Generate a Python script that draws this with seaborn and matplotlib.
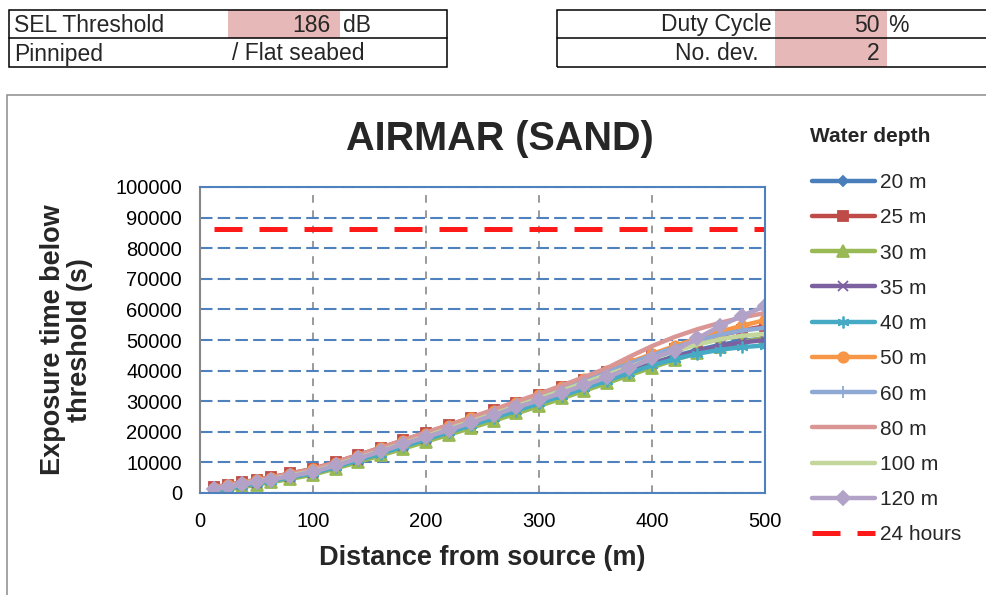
import numpy as np
import pandas as pd
import matplotlib.pyplot as plt
import seaborn as sns
from matplotlib.patches import Rectangle

# distance from source (m)
distance = [12.5, 25, 37.5, 50, 62.5, 80, 100, 120, 140, 160, 180, 200, 220, 240,
            260, 280, 300, 320, 340, 360, 380, 400, 420, 440, 460, 480, 500]

# exposure time below threshold (s) per water depth
depth_20 = [1000, 1800, 2600, 3400, 4200, 5300, 6700, 8800, 11000, 13300, 15600, 17900, 20200, 22600,
            25000, 27500, 29900, 32400, 34900, 37400, 39900, 42400, 44700, 46700, 48400, 49700, 50500]
depth_25 = [1900, 2700, 3500, 4300, 5100, 6400, 7900, 10100, 12400, 14800, 17200, 19700, 22100, 24600,
            27000, 29500, 32000, 34500, 37000, 39600, 42200, 44700, 47200, 49500, 51500, 53200, 54500]
depth_30 = [500, 1200, 1900, 2700, 3500, 4600, 6000, 8000, 10100, 12300, 14500, 16800, 19000, 21300,
            23600, 26000, 28400, 30900, 33400, 35900, 38500, 41000, 43500, 45700, 47600, 49200, 50800]
depth_35 = [900, 1700, 2500, 3300, 4100, 5200, 6600, 8700, 10900, 13200, 15500, 17800, 20100, 22400,
            24800, 27300, 29700, 32200, 34700, 37200, 39700, 42200, 44400, 46400, 48000, 49200, 50000]
depth_40 = [800, 1600, 2400, 3200, 4000, 5100, 6500, 8500, 10700, 12900, 15200, 17500, 19800, 22100,
            24500, 26900, 29300, 31700, 34200, 36700, 39200, 41700, 43800, 45500, 46800, 47700, 48200]
depth_50 = [1700, 2500, 3300, 4100, 4900, 6200, 7700, 9900, 12200, 14600, 17000, 19400, 21900, 24400,
            26900, 29500, 32100, 34700, 37300, 40000, 42700, 45400, 48000, 50500, 52700, 54700, 56500]
depth_60 = [1500, 2300, 3100, 3900, 4700, 5900, 7400, 9600, 11900, 14300, 16700, 19100, 21500, 24000,
            26500, 29100, 31700, 34300, 36900, 39600, 42300, 45000, 47500, 49800, 51700, 53100, 54000]
depth_80 = [1800, 2600, 3400, 4200, 5000, 6300, 7800, 10000, 12400, 14800, 17300, 19800, 22200, 24700,
            27300, 29900, 32400, 35100, 37900, 40800, 44500, 48000, 51000, 53500, 55600, 57400, 58800]
depth_100 = [1300, 2100, 2900, 3700, 4500, 5700, 7100, 9200, 11500, 13800, 16200, 18600, 21000, 23400,
             25900, 28400, 30900, 33400, 36000, 38600, 41200, 43800, 46300, 48500, 50200, 51400, 52000]
depth_120 = [1200, 2000, 2800, 3600, 4400, 5500, 6900, 9000, 11300, 13600, 16000, 18300, 20600, 23000,
             25500, 28000, 30300, 32700, 35200, 37800, 40800, 44000, 46500, 50500, 54500, 58000, 61000]
hours_24 = 86400

series = [
    ('20 m', depth_20, '#4A7EBB', 'D', 5.5),
    ('25 m', depth_25, '#BE4B48', 's', 7.5),
    ('30 m', depth_30, '#98B954', '^', 8),
    ('35 m', depth_35, '#7D60A0', 'x', 7.5),
    ('40 m', depth_40, '#46AAC5', (6, 2, 0), 8.5),
    ('50 m', depth_50, '#F79646', 'o', 7.5),
    ('60 m', depth_60, '#8FA9D5', '+', 8.5),
    ('80 m', depth_80, '#D99694', None, 0),
    ('100 m', depth_100, '#C3D69B', None, 0),
    ('120 m', depth_120, '#B3A2C7', 'D', 7.5),
]

sns.set_style('white')
plt.rcParams['font.family'] = ['Liberation Sans', 'DejaVu Sans']

W, H = 986, 595
fig = plt.figure(figsize=(W / 100, H / 100), dpi=100)


def fx(x):
    return x / W


def fy(y):
    return 1 - y / H


# chart frame
fig.add_artist(Rectangle((fx(7), -0.1), 1.1, fy(95) + 0.1, transform=fig.transFigure,
                         fill=False, edgecolor='#8C8C8C', lw=1.1))

# parameter tables on top
pink = '#E6B9B8'
fig.add_artist(Rectangle((fx(228), fy(38)), fx(340) - fx(228), fy(10) - fy(38),
                         transform=fig.transFigure, facecolor=pink, edgecolor='none'))
fig.add_artist(Rectangle((fx(775), fy(67)), fx(887) - fx(775), fy(10) - fy(67),
                         transform=fig.transFigure, facecolor=pink, edgecolor='none'))
fig.add_artist(Rectangle((fx(9), fy(67)), fx(447) - fx(9), fy(10) - fy(67),
                         transform=fig.transFigure, fill=False, edgecolor='black', lw=1.1))
fig.add_artist(Rectangle((fx(557), fy(67)), fx(995) - fx(557), fy(10) - fy(67),
                         transform=fig.transFigure, fill=False, edgecolor='black', lw=1.1))
fig.add_artist(plt.Line2D([fx(9), fx(447)], [fy(38), fy(38)], transform=fig.transFigure, color='black', lw=1.1))
fig.add_artist(plt.Line2D([fx(557), fx(995)], [fy(38), fy(38)], transform=fig.transFigure, color='black', lw=1.1))

tsize = 16.5
fig.text(fx(14), fy(25), 'SEL Threshold', fontsize=tsize, va='center', ha='left')
fig.text(fx(331), fy(25), '186', fontsize=tsize, va='center', ha='right')
fig.text(fx(343), fy(25), 'dB', fontsize=tsize, va='center', ha='left')
fig.text(fx(14), fy(54), 'Pinniped', fontsize=tsize, va='center', ha='left')
fig.text(fx(232), fy(54), '/ Flat seabed', fontsize=tsize, va='center', ha='left')
fig.text(fx(772), fy(25), 'Duty Cycle', fontsize=tsize, va='center', ha='right')
fig.text(fx(880), fy(25), '50', fontsize=tsize, va='center', ha='right')
fig.text(fx(888), fy(25), '%', fontsize=tsize, va='center', ha='left')
fig.text(fx(759), fy(54), 'No. dev.', fontsize=tsize, va='center', ha='right')
fig.text(fx(880), fy(54), '2', fontsize=tsize, va='center', ha='right')

# the chart
ax = fig.add_axes([fx(200), fy(493), fx(765) - fx(200), fy(187) - fy(493)])
ax.set_axisbelow(True)

for label, vals, color, marker, ms in series:
    df = pd.DataFrame({'distance': distance, 'time': vals})
    sns.lineplot(data=df, x='distance', y='time', ax=ax, color=color, marker=marker,
                 markersize=ms, markeredgecolor=color, markeredgewidth=1.3,
                 linewidth=3.2, label=label)

df24 = pd.DataFrame({'distance': distance, 'time': [hours_24] * len(distance)})
sns.lineplot(data=df24, x='distance', y='time', ax=ax, color='#FF1A1A',
             linestyle=(0, (5.6, 3.4)), linewidth=3.6, label='24 hours')

ax.set_xlim(0, 500)
ax.set_ylim(0, 100000)
ax.set_xticks(np.arange(0, 501, 100))
ax.set_yticks(np.arange(0, 100001, 10000))
ax.yaxis.grid(True, color='#4F81BD', linestyle=(0, (6, 2.5)), lw=1.5)
ax.xaxis.grid(True, color='#7F7F7F', linestyle=(0, (5, 5)), lw=1.1)

for side in ['top', 'right', 'bottom']:
    ax.spines[side].set_color('#4F81BD')
    ax.spines[side].set_linewidth(1.5)
ax.spines['left'].set_color('#868686')
ax.spines['left'].set_linewidth(1.5)

ax.tick_params(axis='both', labelsize=14.5, labelcolor='black', length=3, width=1, direction='out')
ax.tick_params(axis='x', pad=11, colors='#4F81BD', labelcolor='black')
ax.tick_params(axis='y', pad=10, colors='#868686', labelcolor='black')

ax.set_title('AIRMAR (SAND)', fontsize=28.5, fontweight='bold', pad=27, x=0.531)
ax.set_xlabel('Distance from source (m)', fontsize=19.5, fontweight='bold', labelpad=10)
ax.set_ylabel('Exposure time below\nthreshold (s)', fontsize=19.5, fontweight='bold',
              linespacing=1.05)
ax.yaxis.set_label_coords(-0.19, 0.5)

ax.legend(loc='upper left', bbox_to_anchor=(fx(812), fy(173)), bbox_transform=fig.transFigure,
          frameon=False, fontsize=15,
          handlelength=3.0, handletextpad=0.25, labelspacing=0.78,
          borderaxespad=0, borderpad=0)
fig.text(fx(870), fy(136), 'Water depth', fontsize=15, fontweight='bold', ha='center', va='center')

fig.savefig('out.png', dpi=100)
